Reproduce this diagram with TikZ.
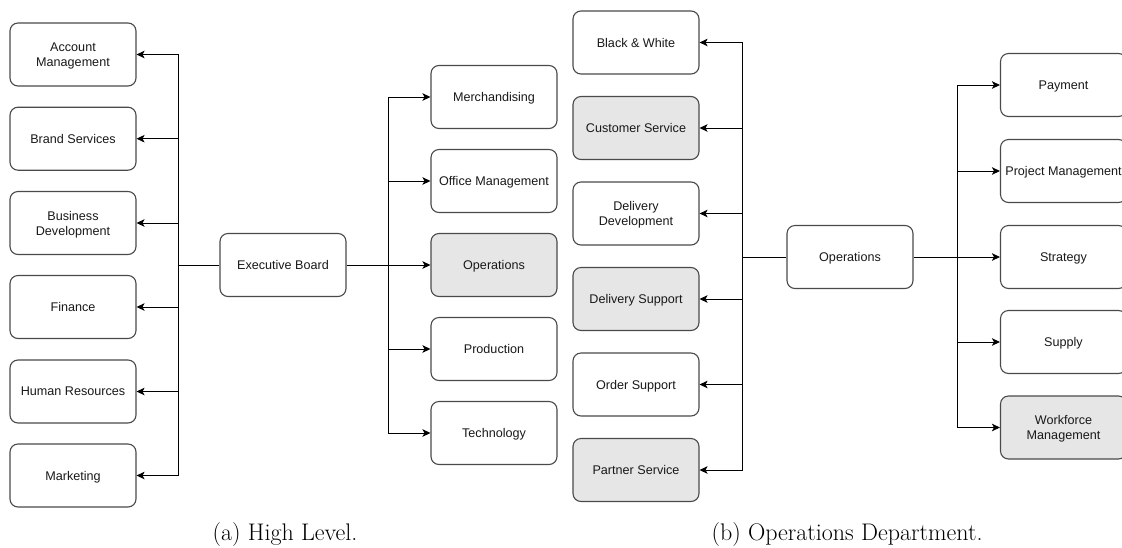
\documentclass[tikz,border=0pt]{standalone}
\usepackage{fontspec}
\setmainfont{Liberation Sans}
\newfontfamily\capfont{Latin Modern Roman}
\usetikzlibrary{arrows.meta}
\definecolor{boxline}{HTML}{4A4A4A}
\definecolor{boxgray}{HTML}{E6E6E6}
\begin{document}
\begin{tikzpicture}[x=1pt,y=-1pt,
  unit/.style={draw=boxline, line width=1.1pt, rounded corners=8pt, fill=white,
    minimum width=126pt, minimum height=63pt, align=center,
    font=\fontsize{12.6}{15}\selectfont, text=black!90, inner sep=1pt, text depth=0pt},
  shaded/.style={unit, fill=boxgray},
  link/.style={draw=black, line width=0.9pt},
  arr/.style={link, -{Stealth[length=8pt,width=7.5pt,inset=2pt]}},
  caption/.style={font=\capfont\fontsize{24}{26}\selectfont}]
\useasboundingbox (0,0) rectangle (1122,547);
\clip (0,0) rectangle (1122,547);

% (a) high level: board and its two groups
\node[unit] (exec) at (283,265) {Executive Board};
\node[unit] (acc) at (73,54.5) {Account\\Management};
\node[unit] (brand) at (73,138.7) {Brand Services};
\node[unit] (busdev) at (73,223) {Business\\Development};
\node[unit] (fin) at (73,307) {Finance};
\node[unit] (hr) at (73,391.5) {Human Resources};
\node[unit] (mkt) at (73,475.5) {Marketing};

\node[unit] (merch) at (494,97) {Merchandising};
\node[unit] (office) at (494,181) {Office Management};
\node[shaded] (ops) at (494,265) {Operations};
\node[unit] (prod) at (494,349) {Production};
\node[unit] (tech) at (494,433) {Technology};

\coordinate (ja) at (178,265);
\coordinate (jb) at (388,265);
\draw[link] (exec) -- (ja);
\draw[link] (exec) -- (jb);
\foreach \t in {acc,brand,busdev,fin,hr,mkt}
  \draw[arr] (ja) |- (\t.east);
\foreach \t in {merch,office,ops,prod,tech}
  \draw[arr] (jb) |- (\t.west);

% (b) operations department
\node[unit] (opsb) at (850,257) {Operations};
\node[unit] (bw) at (636,42.5) {Black \& White};
\node[shaded] (cs) at (636,128) {Customer Service};
\node[unit] (dd) at (636,213.5) {Delivery\\Development};
\node[shaded] (ds) at (636,299) {Delivery Support};
\node[unit] (os) at (636,384.5) {Order Support};
\node[shaded] (ps) at (636,470) {Partner Service};

\node[unit] (pay) at (1063.5,85) {Payment};
\node[unit] (pm) at (1063.5,171) {Project Management};
\node[unit] (strat) at (1063.5,257) {Strategy};
\node[unit] (sup) at (1063.5,342) {Supply};
\node[shaded] (wf) at (1063.5,427.5) {Workforce\\Management};

\coordinate (jc) at (742,257);
\coordinate (jd) at (957,257);
\draw[link] (opsb) -- (jc);
\draw[link] (opsb) -- (jd);
\foreach \t in {bw,cs,dd,ds,os,ps}
  \draw[arr] (jc) |- (\t.east);
\foreach \t in {pay,pm,strat,sup,wf}
  \draw[arr] (jd) |- (\t.west);

\node[caption] (capa) at (285,535) {(a) High Level.};
\node[caption] (capb) at (847,535) {(b) Operations Department.};
\end{tikzpicture}
\end{document}
